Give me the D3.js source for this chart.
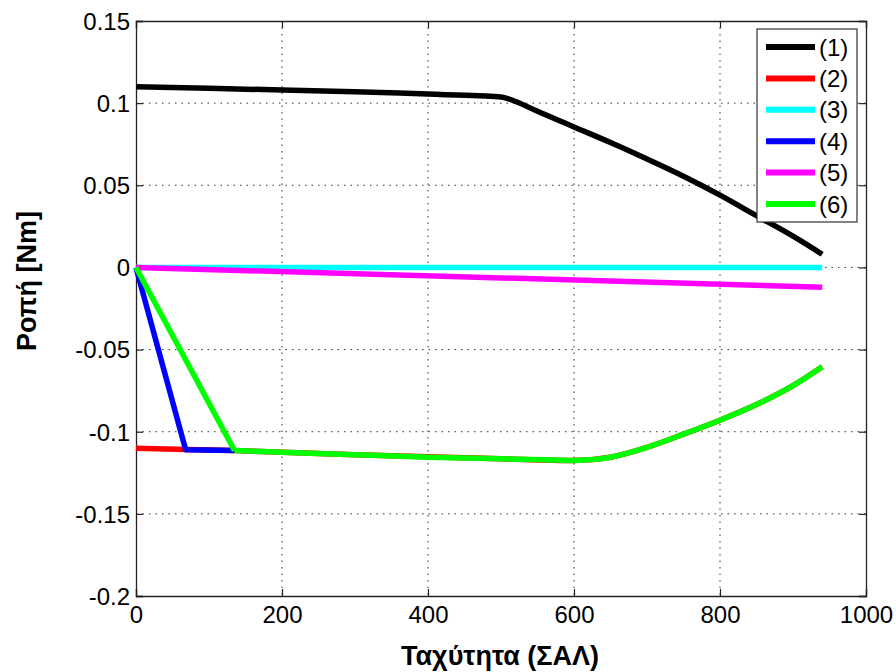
<!DOCTYPE html>
<html>
<head>
<meta charset="utf-8">
<script src="https://cdn.jsdelivr.net/npm/d3@7"></script>
<style>
  body { margin: 0; background: #fff; }
  svg text { font-family: "Liberation Sans", Arial, sans-serif; }
</style>
</head>
<body>
<svg id="chart" width="896" height="672"></svg>
<script>
// data
var labels = ["(1)", "(2)", "(3)", "(4)", "(5)", "(6)"];
var colors = ["#000000", "#ff0000", "#00ffff", "#0000ff", "#ff00ff", "#00ff00"];

var s1x = [0, 100, 200, 300, 400, 470, 500, 520, 550, 600, 650, 700, 750, 800, 850, 900, 940];
var s1y = [0.110, 0.109, 0.108, 0.107, 0.1055, 0.1045, 0.1038, 0.101, 0.095, 0.0855, 0.076, 0.066, 0.0555, 0.044, 0.0315, 0.019, 0.008];

var s2x = [0, 70, 135, 300, 500, 600, 650, 700, 750, 800, 850, 900, 940];
var s2y = [-0.110, -0.1108, -0.1115, -0.114, -0.1165, -0.1175, -0.1155, -0.1095, -0.1015, -0.093, -0.0835, -0.072, -0.0605];

var s3x = [0, 940];
var s3y = [0, 0];

var s4x = [0, 68, 135];
var s4y = [0, -0.111, -0.1115];

var s5x = [0, 940];
var s5y = [0, -0.012];

var s6x = [0, 135, 200, 300, 400, 500, 560, 600, 630, 650, 700, 750, 800, 850, 900, 940];
var s6y = [0, -0.1115, -0.1125, -0.114, -0.1155, -0.1165, -0.117, -0.1175, -0.1168, -0.1155, -0.1095, -0.1015, -0.093, -0.0835, -0.072, -0.0605];

var xTicks = [0, 200, 400, 600, 800, 1000];
var yTicks = [0.15, 0.1, 0.05, 0, -0.05, -0.1, -0.15, -0.2];

var seriesX = [s1x, s2x, s3x, s4x, s5x, s6x];
var seriesY = [s1y, s2y, s3y, s4y, s5y, s6y];

var svg = d3.select("#chart");
var pLeft = 136, pRight = 866, pTop = 21, pBottom = 596;

var x = d3.scaleLinear().domain([0, 1000]).range([pLeft, pRight]);
var y = d3.scaleLinear().domain([-0.2, 0.15]).range([pBottom, pTop]);

// grid
var grid = svg.append("g");
grid.selectAll(".gx").data(xTicks.slice(1, -1)).enter().append("line")
    .attr("x1", d => x(d)).attr("x2", d => x(d))
    .attr("y1", pTop).attr("y2", pBottom)
    .attr("stroke", "#333").attr("stroke-width", 1).attr("stroke-dasharray", "1.5,5");
grid.selectAll(".gy").data(yTicks.slice(1, -1)).enter().append("line")
    .attr("x1", pLeft).attr("x2", pRight)
    .attr("y1", d => y(d)).attr("y2", d => y(d))
    .attr("stroke", "#333").attr("stroke-width", 1).attr("stroke-dasharray", "1.5,5");

// axes
var fmtY = d => d === 0 ? "0" : String(+d.toFixed(2));
var xAxis = svg.append("g").attr("transform", "translate(0," + pBottom + ")")
    .call(d3.axisBottom(x).tickValues(xTicks).tickSize(-7).tickPadding(10).tickFormat(d3.format("d")));
var yAxis = svg.append("g").attr("transform", "translate(" + pLeft + ",0)")
    .call(d3.axisLeft(y).tickValues(yTicks).tickSize(-7).tickPadding(6).tickFormat(fmtY));
var xTop = svg.append("g").attr("transform", "translate(0," + pTop + ")")
    .call(d3.axisTop(x).tickValues(xTicks).tickSize(-7).tickFormat(""));
var yRight = svg.append("g").attr("transform", "translate(" + pRight + ",0)")
    .call(d3.axisRight(y).tickValues(yTicks).tickSize(-7).tickFormat(""));

[xAxis, yAxis, xTop, yRight].forEach(function (a) {
    a.select(".domain").attr("stroke", "#222").attr("stroke-width", 1.3);
    a.selectAll(".tick line").attr("stroke", "#222").attr("stroke-width", 1.2);
    a.selectAll(".tick text").attr("fill", "#000").style("font-size", "24px");
});
yAxis.selectAll(".tick text").attr("dy", "0.35em");

// lines - smooth ones get monotone curve, the kinked ones stay straight
var lineSmooth = d3.line().x(d => x(d[0])).y(d => y(d[1])).curve(d3.curveMonotoneX);
var lineStraight = d3.line().x(d => x(d[0])).y(d => y(d[1]));
seriesX.forEach(function (xs, i) {
    var pts = xs.map((v, j) => [v, seriesY[i][j]]);
    var g = svg.append("g");
    if (i === 1 || i === 5) {
        // straight segment up to the knee, then smooth
        g.append("path").datum(pts.slice(0, 2))
            .attr("d", lineStraight).attr("fill", "none")
            .attr("stroke", colors[i]).attr("stroke-width", 5.5).attr("stroke-linejoin", "round");
        g.append("path").datum(pts.slice(1))
            .attr("d", lineSmooth).attr("fill", "none")
            .attr("stroke", colors[i]).attr("stroke-width", 5.5).attr("stroke-linejoin", "round");
    } else {
        g.append("path").datum(pts)
            .attr("d", i === 0 ? lineSmooth : lineStraight)
            .attr("fill", "none")
            .attr("stroke", colors[i])
            .attr("stroke-width", 5.5)
            .attr("stroke-linejoin", "round");
    }
});

// legend
var lg = svg.append("g");
lg.append("rect").attr("x", 757).attr("y", 29).attr("width", 100).attr("height", 193)
    .attr("fill", "#fff").attr("stroke", "#333").attr("stroke-width", 1.2);
labels.forEach(function (t, i) {
    var yy = 47 + i * 31.4;
    lg.append("line").attr("x1", 766).attr("x2", 815).attr("y1", yy).attr("y2", yy)
        .attr("stroke", colors[i]).attr("stroke-width", 6);
    lg.append("text").attr("x", 819).attr("y", yy).attr("dy", "0.36em")
        .style("font-size", "24px").text(t);
});

// axis titles
svg.append("text").attr("x", 500).attr("y", 665)
    .attr("text-anchor", "middle").style("font-size", "27px").style("font-weight", "bold")
    .text("Ταχύτητα (ΣΑΛ)");
svg.append("text").attr("transform", "translate(36,281) rotate(-90)")
    .attr("text-anchor", "middle").style("font-size", "27px").style("font-weight", "bold")
    .text("Ροπή [Nm]");
</script>
</body>
</html>
